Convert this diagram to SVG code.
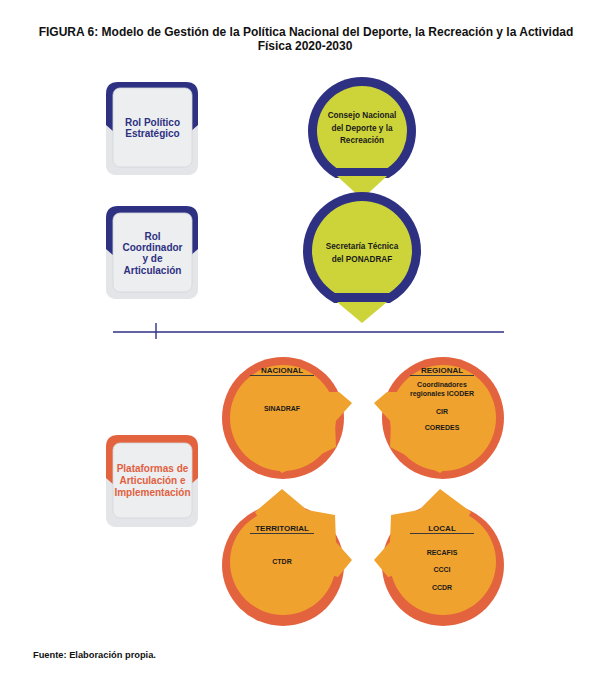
<svg xmlns="http://www.w3.org/2000/svg" width="603" height="689" viewBox="0 0 603 689">
<style>
.t{font-family:"Liberation Sans",Arial,sans-serif;font-weight:bold;text-anchor:middle}
.title{font-size:12px;fill:#111}
.rol{font-size:10px;fill:#2e3182}
.plat{font-size:10px;fill:#e2603f}
.ct{font-size:8.2px;fill:#1a1a1a}
.ot{font-size:7px;fill:#1a1a1a}
.oh{font-size:8px;fill:#1a1a1a}
.back{fill:#e3e5e8}
.inner{fill:#eceef0;stroke:#d3d6da;stroke-width:0.8}
.blue{fill:#2e3182}
.lime{fill:#cdd43a}
.red{fill:#e4633f}
.orange{fill:#f0a22e}
.ul{stroke:#3a3a3a;stroke-width:1.1}
</style>
<defs>
<clipPath id="c1o"><rect x="290" y="60" width="150" height="118"/></clipPath>
<clipPath id="c1i"><rect x="290" y="60" width="150" height="108"/></clipPath>
<clipPath id="c2o"><rect x="290" y="180" width="150" height="123"/></clipPath>
<clipPath id="c2i"><rect x="290" y="180" width="150" height="113"/></clipPath>
</defs>
<rect width="603" height="689" fill="#ffffff"/>
<text class="t title" x="306" y="36">FIGURA 6: Modelo de Gestión de la Política Nacional del Deporte, la Recreación y la Actividad</text>
<text class="t title" x="305" y="50">Física 2020-2030</text>

<g id="rol-politico">
<rect class="back" x="106" y="95" width="92" height="80" rx="9"/>
<path class="blue" d="M106,125 L106,94 Q106,82 118,82 L186,82 Q198,82 198,94 L198,125 L190,132 L114,132 Z"/>
<rect class="inner" x="113" y="88" width="79" height="79" rx="7"/>
<text class="t rol" x="152.5" y="125.5">Rol Político</text>
<text class="t rol" x="152.5" y="136.5">Estratégico</text>
</g>

<g id="rol-coordinador">
<rect class="back" x="106" y="219" width="92" height="80" rx="9"/>
<path class="blue" d="M106,249 L106,218 Q106,206 118,206 L186,206 Q198,206 198,218 L198,249 L190,256 L114,256 Z"/>
<rect class="inner" x="113" y="213" width="79" height="79" rx="7"/>
<text class="t rol" x="152.5" y="239.5">Rol</text>
<text class="t rol" x="152.5" y="250.5">Coordinador</text>
<text class="t rol" x="152.5" y="261.5">y de</text>
<text class="t rol" x="152.5" y="273.5">Articulación</text>
</g>

<g id="plataformas">
<rect class="back" x="106" y="448" width="92" height="79" rx="9"/>
<path class="red" d="M106,478 L106,447 Q106,435 118,435 L186,435 Q198,435 198,447 L198,478 L190,485 L114,485 Z"/>
<rect class="inner" x="113" y="443" width="79" height="75" rx="7"/>
<text class="t plat" x="152.5" y="471.5">Plataformas de</text>
<text class="t plat" x="152.5" y="483.5">Articulación e</text>
<text class="t plat" x="152.5" y="495.5">Implementación</text>
</g>

<g id="connectors">
<line x1="113" y1="332" x2="504" y2="332" stroke="#2e3182" stroke-width="1.6"/>
<line x1="156" y1="323" x2="156" y2="339" stroke="#2e3182" stroke-width="1.4"/>
</g>

<g id="consejo">
<circle class="blue" cx="362" cy="131" r="54" clip-path="url(#c1o)"/>
<circle class="lime" cx="362" cy="131" r="45" clip-path="url(#c1i)"/>
<polygon class="lime" points="337,176 387,176 362,199"/>
<text class="t ct" x="362" y="118">Consejo Nacional</text>
<text class="t ct" x="362" y="131">del Deporte y la</text>
<text class="t ct" x="362" y="143">Recreación</text>
</g>

<g id="secretaria">
<circle class="blue" cx="362" cy="251" r="59" clip-path="url(#c2o)"/>
<circle class="lime" cx="362" cy="251" r="50" clip-path="url(#c2i)"/>
<polygon class="lime" points="337,302 387,302 362,323"/>
<text class="t ct" x="362" y="249">Secretaría Técnica</text>
<text class="t ct" x="362" y="262">del PONADRAF</text>
</g>

<g id="nacional">
<circle class="red" cx="283" cy="418" r="61"/>
<circle class="orange" cx="283" cy="418" r="53"/>
<polygon class="orange" points="328,392 339,392 352,403 335,422 336,447 282,473 255,450 283,418"/>
<text class="t oh" x="282" y="373">NACIONAL</text>
<line class="ul" x1="250" y1="375.5" x2="314" y2="375.5"/>
<text class="t ot" x="282" y="410.5">SINADRAF</text>
</g>

<g id="regional">
<circle class="red" cx="443" cy="418" r="61"/>
<circle class="orange" cx="443" cy="418" r="53"/>
<polygon class="orange" points="398,392 387,392 374,403 391,422 390,447 440,473 471,450 443,418"/>
<text class="t oh" x="442" y="373">REGIONAL</text>
<line class="ul" x1="410" y1="375.5" x2="474" y2="375.5"/>
<text class="t ot" x="442" y="386.5">Coordinadores</text>
<text class="t ot" x="442" y="395.5">regionales ICODER</text>
<text class="t ot" x="442" y="413.5">CIR</text>
<text class="t ot" x="442" y="429.5">COREDES</text>
</g>

<g id="territorial">
<circle class="red" cx="283" cy="565" r="61"/>
<circle class="orange" cx="283" cy="562" r="53"/>
<polygon class="orange" points="255,512 282,489 307,510 335,515 336,542 352,560 338,577 283,562"/>
<text class="t oh" x="282" y="531">TERRITORIAL</text>
<line class="ul" x1="250" y1="533.5" x2="314" y2="533.5"/>
<text class="t ot" x="282" y="563.5">CTDR</text>
</g>

<g id="local">
<circle class="red" cx="443" cy="565" r="61"/>
<circle class="orange" cx="443" cy="562" r="53"/>
<polygon class="orange" points="471,512 440,489 419,510 391,515 390,542 374,560 388,577 443,562"/>
<text class="t oh" x="442" y="531">LOCAL</text>
<line class="ul" x1="410" y1="533.5" x2="474" y2="533.5"/>
<text class="t ot" x="442" y="554.5">RECAFIS</text>
<text class="t ot" x="442" y="571.5">CCCI</text>
<text class="t ot" x="442" y="589.5">CCDR</text>
</g>

<text class="t" x="33" y="658" style="font-size:9.3px;fill:#111;text-anchor:start">Fuente: Elaboración propia.</text>
</svg>
